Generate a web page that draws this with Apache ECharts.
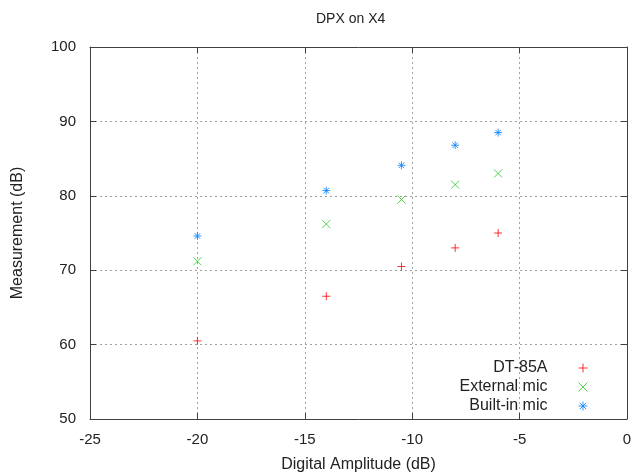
<!DOCTYPE html>
<html>
<head>
<meta charset="utf-8">
<script src="https://cdn.jsdelivr.net/npm/echarts@6/dist/echarts.min.js"></script>
<style>
  html, body { margin: 0; padding: 0; background: #fff; }
  #chart { width: 631px; height: 474px; }
</style>
</head>
<body>
<div id="chart"></div>
<script>
const seriesNames = ['DT-85A', 'External mic', 'Built-in mic'];
const amplitudes = [-20, -14, -10.5, -8, -6];
const dt85a = [60.5, 66.5, 70.5, 73, 75];
const externalMic = [71.2, 76.2, 79.5, 81.5, 83];
const builtinMic = [74.6, 80.7, 84.1, 86.8, 88.5];

const colors = ['#ff0000', '#22cc22', '#0080ff'];
const plusPath = 'path://M0,5L10,5M5,0L5,10';
const crossPath = 'path://M0,0L10,10M10,0L0,10';
const starPath = 'path://M0,5L10,5M5,0L5,10M1.5,1.5L8.5,8.5M8.5,1.5L1.5,8.5';
const symbols = [plusPath, crossPath, starPath];
const values = [dt85a, externalMic, builtinMic];

const font = 'Liberation Sans, Arial, sans-serif';
const chart = echarts.init(document.getElementById('chart'));

const gridLine = { show: true, lineStyle: { color: '#a0a0a0', type: [2, 3], width: 1 } };
const border = { show: true, onZero: false, lineStyle: { color: '#404040', width: 1 } };
const ticks = { show: true, inside: true, length: 6, lineStyle: { color: '#404040' } };

chart.setOption({
  animation: false,
  title: {
    text: 'DPX on X4',
    left: 311,
    top: 7,
    textStyle: { fontFamily: font, fontSize: 14, fontWeight: 'normal', color: '#222' }
  },
  grid: { left: 90, right: 4, top: 47, bottom: 55, outerBoundsMode: 'none', containLabel: false },
  legend: {
    orient: 'vertical',
    align: 'right',
    right: 38,
    top: 355,
    itemGap: 3,
    itemWidth: 9,
    itemHeight: 9,
    textStyle: { fontFamily: font, fontSize: 16, color: '#222', padding: [0, 26, 0, 0] },
    data: seriesNames.map((n, i) => ({
      name: n,
      icon: symbols[i],
      itemStyle: { color: 'transparent', borderColor: colors[i], borderWidth: 1 }
    }))
  },
  xAxis: [{
    type: 'value',
    min: -25, max: 0, interval: 5,
    name: 'Digital Amplitude (dB)',
    nameLocation: 'middle',
    nameGap: 38,
    nameTextStyle: { fontFamily: font, fontSize: 16, color: '#222' },
    axisLine: border,
    axisTick: ticks,
    axisLabel: { fontFamily: font, fontSize: 15, color: '#222', margin: 13 },
    splitLine: gridLine
  }, {
    type: 'value', position: 'top',
    min: -25, max: 0, interval: 5,
    axisLine: border,
    axisTick: ticks,
    axisLabel: { show: false },
    splitLine: { show: false }
  }],
  yAxis: [{
    type: 'value',
    min: 50, max: 100, interval: 10,
    name: 'Measurement (dB)',
    nameLocation: 'middle',
    nameGap: 64,
    nameTextStyle: { fontFamily: font, fontSize: 16, color: '#222' },
    axisLine: border,
    axisTick: ticks,
    axisLabel: { fontFamily: font, fontSize: 15, color: '#222', margin: 14 },
    splitLine: gridLine
  }, {
    type: 'value', position: 'right',
    min: 50, max: 100, interval: 10,
    axisLine: border,
    axisTick: ticks,
    axisLabel: { show: false },
    splitLine: { show: false }
  }],
  series: seriesNames.map((n, i) => ({
    name: n,
    type: 'scatter',
    symbol: symbols[i],
    symbolSize: 8,
    itemStyle: { color: 'transparent', borderColor: colors[i], borderWidth: 1 },
    data: amplitudes.map((a, j) => [a, values[i][j]])
  }))
});
</script>
</body>
</html>
